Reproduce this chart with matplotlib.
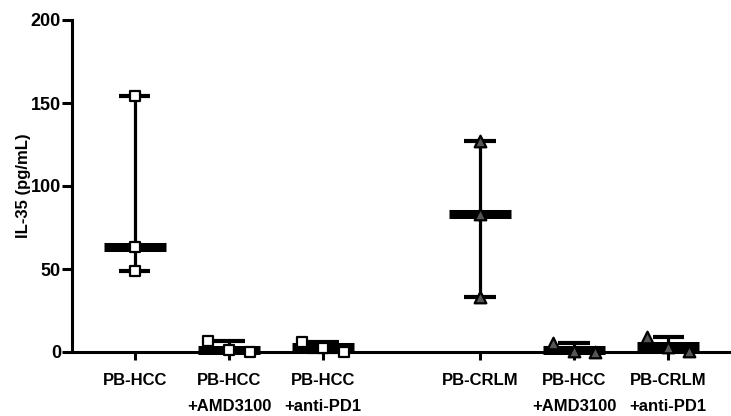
import matplotlib
matplotlib.use("Agg")
import matplotlib.pyplot as plt
import numpy as np

categories = ["PB-HCC", "PB-HCC\n+AMD3100", "PB-HCC\n+anti-PD1",
              "PB-CRLM", "PB-HCC\n+AMD3100", "PB-CRLM\n+anti-PD1"]
positions = [1, 2, 3, 4.67, 5.67, 6.67]
values = [
    [154, 63, 49],
    [6.5, 1, 0],
    [6, 2.5, 0],
    [127, 83, 33],
    [5.5, 0.5, 0],
    [9, 3, 0.5],
]
medians = [63, 1, 3, 83, 1, 3.5]
markers = ["s", "s", "s", "^", "^", "^"]
facecolors = ["white", "white", "white", "#555555", "#555555", "#555555"]
jitter = [False, True, True, False, True, True]
ylabel = "IL-35 (pg/mL)"
yticks = [0, 50, 100, 150, 200]

font = "Liberation Sans"

fig = plt.figure(figsize=(7.31, 4.16), dpi=100)
ax = fig.add_axes([72/731, 64/416, (731-72)/731, 332/416])

for pos, vals, med, mk, fc, jt in zip(positions, values, medians, markers, facecolors, jitter):
    lo, hi = min(vals), max(vals)
    ax.plot([pos, pos], [lo, hi], color="black", lw=2.3, zorder=2, solid_capstyle="butt", clip_on=False)
    for v in (lo, hi):
        ax.plot([pos - 0.165, pos + 0.165], [v, v], color="black", lw=3, zorder=2,
                solid_capstyle="butt", clip_on=False)
    ax.plot([pos - 0.33, pos + 0.33], [med, med], color="black", lw=6.5, zorder=3,
            solid_capstyle="butt", clip_on=False)
    n = len(vals)
    offs = (np.arange(n) - (n - 1) / 2) * 0.22 if jt else np.zeros(n)
    ax.scatter(pos + offs, vals, marker=mk, s=60 if mk == "s" else 70, facecolor=fc,
               edgecolor="black", linewidth=1.6, zorder=4, clip_on=False)

ax.set_xlim(0.33, 7.34)
ax.set_ylim(0, 200)
ax.set_yticks(yticks)
ax.set_xticks(positions)
ax.set_xticklabels(categories, fontfamily=font, fontweight="bold", fontsize=12,
                   linespacing=1.9)
for lab in ax.get_yticklabels():
    lab.set_fontfamily(font)
    lab.set_fontweight("bold")
    lab.set_fontsize(13)
ax.set_ylabel(ylabel, fontfamily=font, fontweight="bold", fontsize=12, labelpad=0)

for s in ("top", "right"):
    ax.spines[s].set_visible(False)
for s in ("left", "bottom"):
    ax.spines[s].set_linewidth(2.2)
ax.tick_params(axis="y", length=7, width=2.2, pad=1)
ax.tick_params(axis="x", length=6, width=2.2, pad=9)

fig.savefig("out.png", dpi=100)
